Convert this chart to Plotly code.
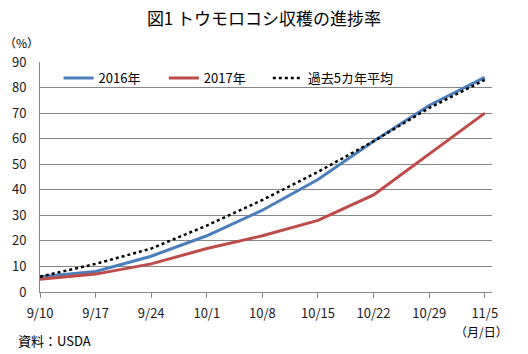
import plotly.graph_objects as go

dates = ["9/10", "9/17", "9/24", "10/1", "10/8", "10/15", "10/22", "10/29", "11/5"]
y2016 = [6, 8, 14, 22, 32, 44, 59, 73, 84]
y2017 = [5, 7, 11, 17, 22, 28, 38, 54, 70]
avg5 = [6, 11, 17, 26, 36, 47, 59, 72, 83]
yticks = [0, 10, 20, 30, 40, 50, 60, 70, 80, 90]

FONT = "Noto Sans CJK JP"
xs = list(range(len(dates)))

fig = go.Figure()
fig.add_trace(go.Scatter(x=xs, y=y2016, name="2016年", mode="lines", legend="legend",
                         line=dict(color="#4A7EBB", width=3)))
fig.add_trace(go.Scatter(x=xs, y=y2017, name="2017年", mode="lines", legend="legend2",
                         line=dict(color="#BE4B48", width=3)))
fig.add_trace(go.Scatter(x=xs, y=avg5, name="過去5カ年平均", mode="lines", legend="legend3",
                         line=dict(color="#000000", width=2.5, dash="dot")))

leg = dict(orientation="h", xanchor="left", y=0.93, yanchor="middle",
           bgcolor="rgba(0,0,0,0)", font=dict(family=FONT, size=13, color="#000"),
           itemwidth=30)

fig.update_layout(
    width=528, height=354,
    margin=dict(l=40, r=36, t=62, b=62),
    paper_bgcolor="white", plot_bgcolor="white",
    font=dict(family=FONT, size=13, color="#1a1a1a"),
    title=dict(text="図1 トウモロコシ収穫の進捗率", x=0.5, xanchor="center",
               y=1 - 19 / 354, yanchor="middle",
               font=dict(family=FONT, size=17, color="#000000")),
    showlegend=True,
    legend=dict(leg, x=0.041),
    legend2=dict(leg, x=0.274),
    legend3=dict(leg, x=0.504),
    xaxis=dict(range=[0, 8.13], tickvals=xs, ticktext=dates, showgrid=False,
               zeroline=False, showline=True, linecolor="#868686", linewidth=1,
               ticks="outside", ticklen=5, tickcolor="#868686", ticklabelstandoff=4,
               tickfont=dict(family=FONT, size=13, color="#1a1a1a"), fixedrange=True),
    yaxis=dict(range=[0, 90], tickvals=yticks, showgrid=True, gridcolor="#868686",
               gridwidth=1, zeroline=False, showline=True, linecolor="#868686",
               linewidth=1, ticks="", ticklabelstandoff=10,
               tickfont=dict(family=FONT, size=13, color="#1a1a1a")),
)

fig.add_annotation(text="（%）", xref="paper", yref="paper", x=-0.041, y=1.085,
                   showarrow=False, xanchor="center", yanchor="middle",
                   font=dict(family=FONT, size=12, color="#000"))
fig.add_annotation(text="資料：USDA", xref="paper", yref="paper", x=-0.052, y=-0.21,
                   showarrow=False, xanchor="left", yanchor="middle",
                   font=dict(family=FONT, size=13, color="#000"))
fig.add_annotation(text="（月/日）", xref="paper", yref="paper", x=1.04, y=-0.172,
                   showarrow=False, xanchor="right", yanchor="middle",
                   font=dict(family=FONT, size=12, color="#000"))

fig.write_html("out.html")
